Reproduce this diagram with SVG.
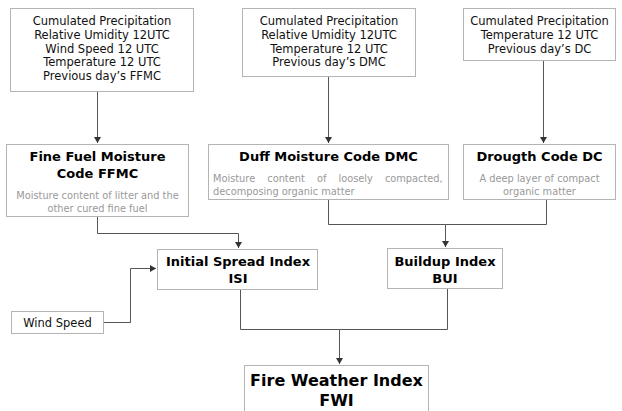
<svg xmlns="http://www.w3.org/2000/svg" width="622" height="411" viewBox="0 0 622 411">
<defs>
<marker id="arr" markerUnits="userSpaceOnUse" markerWidth="7" markerHeight="7" refX="6" refY="3.5" orient="auto">
<path d="M0,0 L6,3.5 L0,7 z" fill="#333"/>
</marker>
<style>
.box{fill:#fff;stroke:#b4b4b4;stroke-width:1}
.t{font-family:"DejaVu Sans",Verdana,sans-serif;font-size:11.5px;fill:#111;text-anchor:middle}
.b{font-family:"DejaVu Sans",Verdana,sans-serif;font-size:13px;font-weight:bold;fill:#000;text-anchor:middle}
.g{font-family:"DejaVu Sans",Verdana,sans-serif;font-size:9.8px;fill:#999;text-anchor:middle}
.c{fill:none;stroke:#555;stroke-width:1}
</style>
</defs>
<rect width="622" height="411" fill="#fff"/>
<g id="connectors">
<path class="c" d="M97.5,91 V143" marker-end="url(#arr)"/>
<path class="c" d="M328.5,76 V143" marker-end="url(#arr)"/>
<path class="c" d="M543.5,60 V143" marker-end="url(#arr)"/>
<path class="c" d="M97.5,216 V233.5 H238.5 V248" marker-end="url(#arr)"/>
<path class="c" d="M328.5,199 V224.5 H445.5 V247" marker-end="url(#arr)"/>
<path class="c" d="M546.5,199 V224.5 H445.5"/>
<path class="c" d="M103,322.5 H130.5 V268.5 H156" marker-end="url(#arr)"/>
<path class="c" d="M240.5,290 V329.5 H339.5 V364" marker-end="url(#arr)"/>
<path class="c" d="M447.5,288 V329.5 H339.5"/>
</g>
<g id="in-ffmc">
<rect class="box" x="10.5" y="8.5" width="183" height="83"/>
<text class="t" x="102" y="25">Cumulated Precipitation</text>
<text class="t" x="102" y="38.8">Relative Umidity 12UTC</text>
<text class="t" x="102" y="52.6">Wind Speed 12 UTC</text>
<text class="t" x="102" y="66.4">Temperature 12 UTC</text>
<text class="t" x="102" y="80.2">Previous day’s FFMC</text>
</g>
<g id="in-dmc">
<rect class="box" x="242.5" y="8.5" width="173" height="68"/>
<text class="t" x="329" y="25">Cumulated Precipitation</text>
<text class="t" x="329" y="38.8">Relative Umidity 12UTC</text>
<text class="t" x="329" y="52.6">Temperature 12 UTC</text>
<text class="t" x="329" y="66.4">Previous day’s DMC</text>
</g>
<g id="in-dc">
<rect class="box" x="463.5" y="8.5" width="152" height="52"/>
<text class="t" x="539.5" y="25">Cumulated Precipitation</text>
<text class="t" x="539.5" y="38.8">Temperature 12 UTC</text>
<text class="t" x="539.5" y="52.6">Previous day’s DC</text>
</g>
<g id="ffmc">
<rect class="box" x="6.5" y="144.5" width="182" height="72"/>
<text class="b" x="97.5" y="161">Fine Fuel Moisture</text>
<text class="b" x="97.5" y="178">Code FFMC</text>
<text class="g" x="97.5" y="199">Moisture content of litter and the</text>
<text class="g" x="97.5" y="212">other cured fine fuel</text>
</g>
<g id="dmc">
<rect class="box" x="208.5" y="144.5" width="240" height="55"/>
<text class="b" x="328.5" y="161">Duff Moisture Code DMC</text>
<text class="g" x="213" y="182" style="text-anchor:start" word-spacing="9">Moisture content of loosely compacted,</text>
<text class="g" x="213" y="195" style="text-anchor:start">decomposing organic matter</text>
</g>
<g id="dc">
<rect class="box" x="463.5" y="144.5" width="152" height="55"/>
<text class="b" x="539.5" y="161">Drougth Code DC</text>
<text class="g" x="539.5" y="182">A deep layer of compact</text>
<text class="g" x="539.5" y="195">organic matter</text>
</g>
<g id="isi">
<rect class="box" x="157.5" y="249.5" width="160" height="40"/>
<text class="b" x="238" y="266">Initial Spread Index</text>
<text class="b" x="238" y="283">ISI</text>
</g>
<g id="bui">
<rect class="box" x="387.5" y="248.5" width="115" height="40"/>
<text class="b" x="445" y="266">Buildup Index</text>
<text class="b" x="445" y="283">BUI</text>
</g>
<g id="wind">
<rect class="box" x="11.5" y="311.5" width="92" height="22"/>
<text class="t" x="57.5" y="326.5">Wind Speed</text>
</g>
<g id="fwi">
<rect class="box" x="244.5" y="365.5" width="184" height="60"/>
<text class="b" x="336.5" y="386" style="font-size:16px">Fire Weather Index</text>
<text class="b" x="336.5" y="406" style="font-size:16px">FWI</text>
</g>
</svg>
